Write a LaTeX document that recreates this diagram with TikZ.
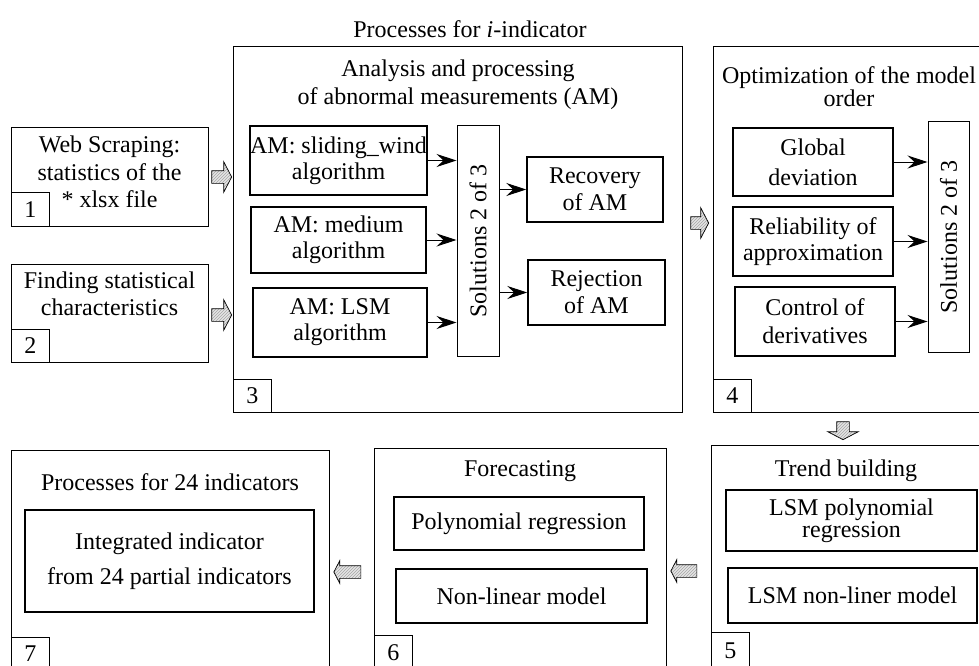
\documentclass[tikz,border=0pt]{standalone}
\usepackage{fontspec}
\setmainfont{Liberation Serif}
\usetikzlibrary{arrows.meta,shapes.arrows,patterns}

\begin{document}
\begin{tikzpicture}[x=1pt,y=-1pt]
\tikzset{blok/.style={draw,line width=0.8pt,anchor=north west,inner sep=0pt}}
\tikzset{cell/.style={draw,line width=1.5pt,align=center,inner sep=0pt,font=\fontsize{24}{#1}\selectfont},cell/.default=27}
\tikzset{txt/.style={align=center,inner sep=0pt,font=\fontsize{24}{#1}\selectfont},txt/.default=27}
\tikzset{nr/.style={draw,line width=0.8pt,anchor=south west,minimum width=38pt,minimum height=33pt,inner sep=0pt,font=\fontsize{24}{27}\selectfont}}
\tikzset{sol/.style={draw,line width=1pt,rotate=90,minimum width=230pt,minimum height=42pt,inner sep=0pt,font=\fontsize{24}{27}\selectfont}}
\tikzset{hatch/.style={single arrow,draw,line width=0.7pt,minimum height=20pt,inner xsep=0pt,inner ysep=6pt,text height=0pt,text depth=0pt,single arrow head extend=9pt,single arrow tip angle=125,preaction={fill=gray!20},pattern=north east lines,pattern color=gray!70}}
\tikzset{arr/.style={-{Stealth[length=20pt,width=13pt,inset=7pt]},line width=1pt}}

\useasboundingbox (0,0) rectangle (979,666);

  \draw (470,29) node[txt] (ttl) {Processes for \textit{i}-indicator};

  % input blocks
  \draw (11,127) node[blok,minimum width=197pt,minimum height=99pt] (B1) {};
  \draw (109.5,172) node[txt=27.5] (t1) {Web Scraping:\\statistics of the\\* xlsx file};
  \draw (B1.south west) node[nr,minimum height=34pt] (n1) {1};
  \draw (11,264) node[blok,minimum width=197pt,minimum height=98pt] (B2) {};
  \draw (109.5,294) node[txt] (t2) {Finding statistical\\characteristics};
  \draw (B2.south west) node[nr] (n2) {2};

  % abnormal measurements
  \draw (233,46) node[blok,minimum width=449pt,minimum height=366pt] (B3) {};
  \draw (458,85) node[txt=28] (t3) {Analysis and processing\\of abnormal measurements (AM)};
  \draw (B3.south west) node[nr] (n3) {3};
  \draw (338.5,160.5) node[cell=26,minimum width=175pt,minimum height=69pt] (s1) {AM: sliding\_wind\\algorithm};
  \draw (338.5,240) node[cell=26,minimum width=175pt,minimum height=66pt] (s2) {AM: medium\\algorithm};
  \draw (340,322.5) node[cell=26,minimum width=174pt,minimum height=69pt] (s3) {AM: LSM\\algorithm};
  \draw (478,241) node[sol] (sol3) {Solutions 2 of 3};
  \draw (595,189.5) node[cell,minimum width=136pt,minimum height=65pt] (rec) {Recovery\\of AM};
  \draw (596.5,292.5) node[cell,minimum width=137pt,minimum height=65pt] (rej) {Rejection\\of AM};

  \draw[arr] (s1.east) -- (s1.east -| sol3.north);
  \draw[arr] (s2.east) -- (s2.east -| sol3.north);
  \draw[arr] (s3.east) -- (s3.east -| sol3.north);
  \draw[arr] (sol3.south |- rec.west) -- (rec.west);
  \draw[arr] (sol3.south |- rej.west) -- (rej.west);

  % model order
  \draw (713,46) node[blok,minimum width=267pt,minimum height=366pt] (B4) {};
  \draw (849,87) node[txt=20] (t4) {Optimization of the model\\order};
  \draw (B4.south west) node[nr] (n4) {4};
  \draw (813,162) node[cell=30,minimum width=160pt,minimum height=68pt] (glob) {Global\\deviation};
  \draw (813,241.5) node[cell=26,minimum width=160pt,minimum height=69pt] (rel) {Reliability of\\approximation};
  \draw (815,321.5) node[cell=28,minimum width=160pt,minimum height=69pt] (ctrl) {Control of\\derivatives};
  \draw (948.5,237) node[sol,minimum height=41pt] (sol4) {Solutions 2 of 3};

  \draw[arr] (glob.east) -- (glob.east -| sol4.north);
  \draw[arr] (rel.east) -- (rel.east -| sol4.north);
  \draw[arr] (ctrl.east) -- (ctrl.east -| sol4.north);

  % trend, forecast, integration
  \draw (711,445) node[blok,minimum width=269pt,minimum height=224pt] (B5) {};
  \draw (846,471) node[txt] (t5) {Trend building};
  \draw (B5.south west) node[nr,minimum height=37pt] (n5) {5};
  \draw (851.5,520.5) node[cell=20,minimum width=251pt,minimum height=61pt] (lpr) {LSM polynomial\\regression};
  \draw (852.5,595.5) node[cell,minimum width=249pt,minimum height=55pt] (lnl) {LSM non-liner model};

  \draw (374,448) node[blok,minimum width=292pt,minimum height=221pt] (B6) {};
  \draw (520,471) node[txt] (t6) {Forecasting};
  \draw (B6.south west) node[nr,minimum height=34pt] (n6) {6};
  \draw (519,523.5) node[cell,minimum width=250pt,minimum height=53pt] (pr) {Polynomial regression};
  \draw (521.5,596) node[cell,minimum width=251pt,minimum height=54pt] (nl) {Non-linear model};

  \draw (11,450) node[blok,minimum width=318pt,minimum height=219pt] (B7) {};
  \draw (170,482) node[txt] (t7) {Processes for 24 indicators};
  \draw (B7.south west) node[nr,minimum height=32pt] (n7) {7};
  \draw (169.5,561) node[cell=35,minimum width=289pt,minimum height=102pt] (integ) {Integrated indicator\\from 24 partial indicators};

  % block arrows
  \draw (220,177) node[hatch] (h1) {};
  \draw (220,315) node[hatch] (h2) {};
  \draw (698,223) node[hatch,minimum height=18pt] (h3) {};
  \draw (843,429) node[hatch,minimum height=18pt,inner xsep=6pt,inner ysep=0pt,shape border rotate=270] (h4) {};
  \draw (685.5,571) node[hatch,minimum height=26pt,single arrow head extend=5pt,shape border rotate=180] (h5) {};
  \draw (349,572) node[hatch,minimum height=27pt,single arrow head extend=5pt,shape border rotate=180] (h6) {};

\end{tikzpicture}
\end{document}
